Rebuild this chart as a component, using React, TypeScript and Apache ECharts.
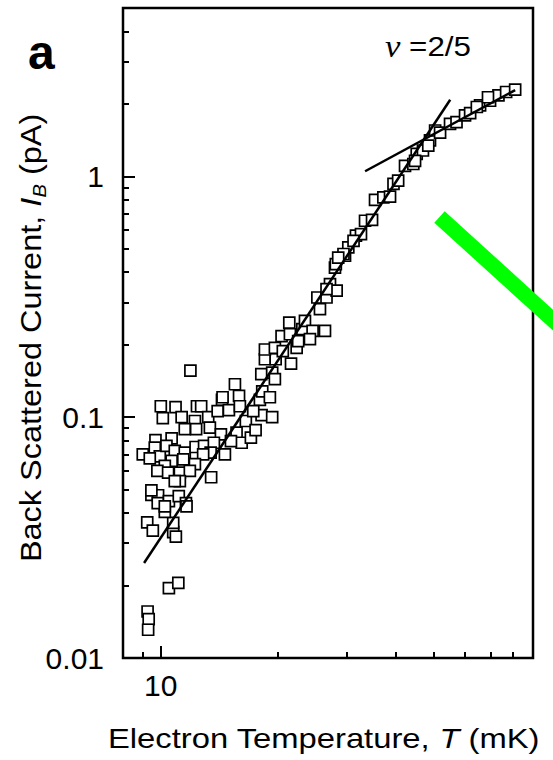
import React, { useEffect, useRef } from "react";
import * as echarts from "echarts";

// Electron temperature T (mK) and back scattered current I_B (pA), paired by index
const temperatureMK = [
  9.25, 9.31, 9.28, 10.49, 11.09, 9.23, 9.54, 10.76, 10.93, 10.76, 10.24, 9.46, 9.84, 10.49, 11.12, 11.6, 9.82,
  11.91, 15.49, 10.0, 10.91, 12.38, 12.69, 14.35, 15.87, 18.1, 19.3, 19.61, 10.12, 11.31, 12.23, 13.23, 13.99,
  14.95, 15.95, 16.52, 17.95, 18.13, 19.3, 17.26, 9.69, 10.66, 11.52, 12.32, 13.36, 14.26, 15.64, 16.12, 17.02,
  17.5, 15.13, 8.99, 9.65, 9.94, 9.37, 10.34, 10.86, 11.52, 12.28, 12.91, 13.68, 14.6, 13.42, 12.84, 10.66,
  11.42, 12.23, 10.24, 9.8, 10.44, 11.19, 11.87, 13.46, 11.19, 10.86, 9.46, 10.24, 11.64, 14.4, 18.2, 19.04,
  18.49, 19.7, 21.57, 18.49, 19.61, 20.55, 22.3, 20.4, 21.43, 21.35, 23.06, 23.42, 24.5, 26.36, 24.12, 22.5,
  25.2, 26.6, 25.59, 27.15, 27.96, 28.24, 26.6, 28.1, 29.67, 30.25, 31.65, 33.39, 34.8, 35.42, 37.2, 38.7,
  39.5, 40.6, 42.28, 44.4, 45.3, 47.0, 49.0, 50.5, 32.6, 31.2, 29.4, 28.5, 44.86, 48.5, 52.0, 55.15, 57.3,
  60.26, 62.1, 65.85, 69.85, 73.4, 76.8, 81.0, 64.6, 69.0,
];
const currentPA = [
  0.0156, 0.0145, 0.0131, 0.0195, 0.0205, 0.0366, 0.0338, 0.0333, 0.0319, 0.0364, 0.0404, 0.0476, 0.0474, 0.0448,
  0.047, 0.044, 0.044, 0.156, 0.137, 0.111, 0.11, 0.111, 0.111, 0.118, 0.1225, 0.151, 0.153, 0.144, 0.099, 0.1,
  0.0964, 0.1, 0.106, 0.107, 0.111, 0.0964, 0.118, 0.102, 0.1, 0.106, 0.0803, 0.0816, 0.0892, 0.0892, 0.0905,
  0.0848, 0.0862, 0.0783, 0.0822, 0.0883, 0.0796, 0.07, 0.0747, 0.0688, 0.0674, 0.076, 0.0724, 0.0712, 0.0752,
  0.076, 0.0783, 0.07, 0.0712, 0.07, 0.0658, 0.0668, 0.0638, 0.0628, 0.0598, 0.0588, 0.0588, 0.0598, 0.0563,
  0.0543, 0.0543, 0.0497, 0.0426, 0.0426, 0.121, 0.128, 0.121, 0.174, 0.174, 0.167, 0.191, 0.194, 0.188, 0.194,
  0.217, 0.221, 0.247, 0.232, 0.251, 0.228, 0.228, 0.211, 0.207, 0.314, 0.314, 0.281, 0.357, 0.418, 0.335, 0.34,
  0.432, 0.468, 0.507, 0.567, 0.654, 0.659, 0.798, 0.818, 0.823, 0.93, 0.96, 1.106, 1.125, 1.24, 1.28, 1.41,
  1.55, 0.576, 0.54, 0.476, 0.46, 1.16, 1.34, 1.52, 1.65, 1.68, 1.79, 1.83, 1.97, 2.06, 2.17, 2.24, 2.29, 1.94,
  2.13,
];

// Power-law guide lines (endpoints in data units)
const steepFitT = [9.06, 55.2];
const steepFitI = [0.0248, 2.08];
const shallowFitT = [33.4, 81.0];
const shallowFitI = [1.05, 2.28];

// Axis ticks
const xMajorTicks = [10];
const xMinorTicks = [9, 20, 30, 40, 50, 60, 70, 80];
const yMajorTicks = [0.01, 0.1, 1];
const yMinorTicks = [
  0.02, 0.03, 0.04, 0.05, 0.06, 0.07, 0.08, 0.09, 0.2, 0.3, 0.4, 0.5, 0.6, 0.7, 0.8, 0.9, 2, 3, 4,
];
const xRange = [8, 90];
const yRange = [0.01, 5];

const SANS = "'Liberation Sans', Arial, Helvetica, sans-serif";

export default function App() {
  const ref = useRef<HTMLDivElement>(null);

  useEffect(() => {
    if (!ref.current) return;
    const chart = echarts.init(ref.current, undefined, { renderer: "svg" });

    const points = temperatureMK.map((t, i) => [t, currentPA[i]]);
    const fmt = (v: number) => String(Number(Number(v).toPrecision(3)));

    const xBase = (ticks: number[], len: number, labels: boolean) => ({
      type: "log",
      logBase: 10,
      min: xRange[0],
      max: xRange[1],
      position: "bottom",
      axisLine: { show: false },
      splitLine: { show: false },
      minorTick: { show: false },
      axisTick: {
        show: true,
        inside: true,
        length: len,
        customValues: ticks,
        lineStyle: { color: "#000", width: 2 },
      },
      axisLabel: labels
        ? {
            show: true,
            customValues: ticks,
            formatter: fmt,
            fontSize: 30,
            fontFamily: SANS,
            color: "#000",
            margin: 12,
          }
        : { show: false },
    });
    const yBase = (ticks: number[], len: number, labels: boolean) => ({
      type: "log",
      logBase: 10,
      min: yRange[0],
      max: yRange[1],
      position: "left",
      axisLine: { show: false },
      splitLine: { show: false },
      minorTick: { show: false },
      axisTick: {
        show: true,
        inside: true,
        length: len,
        customValues: ticks,
        lineStyle: { color: "#000", width: 2 },
      },
      axisLabel: labels
        ? {
            show: true,
            customValues: ticks,
            formatter: fmt,
            fontSize: 30,
            fontFamily: SANS,
            color: "#000",
            margin: 19,
          }
        : { show: false },
    });

    chart.setOption({
      animation: false,
      backgroundColor: "#fff",
      grid: {
        left: 123,
        right: 20,
        top: 8,
        bottom: 102,
        show: true,
        borderColor: "#000",
        borderWidth: 2.5,
        backgroundColor: "transparent",
        containLabel: false,
        outerBoundsMode: "none",
      },
      xAxis: [xBase(xMajorTicks, 12, true), xBase(xMinorTicks, 6, false)],
      yAxis: [yBase(yMajorTicks, 12, true), yBase(yMinorTicks, 6, false)],
      series: [
        {
          type: "scatter",
          data: points,
          symbol: "rect",
          symbolSize: 11,
          itemStyle: { color: "#fff", borderColor: "#000", borderWidth: 1.7, opacity: 1 },
          z: 2,
          silent: true,
        },
        {
          type: "line",
          data: steepFitT.map((t, i) => [t, steepFitI[i]]),
          showSymbol: false,
          symbol: "none",
          lineStyle: { color: "#000", width: 2.5 },
          z: 3,
          silent: true,
        },
        {
          type: "line",
          data: shallowFitT.map((t, i) => [t, shallowFitI[i]]),
          showSymbol: false,
          symbol: "none",
          lineStyle: { color: "#000", width: 2.5 },
          z: 3,
          silent: true,
        },
      ],
      graphic: [
        {
          type: "text",
          x: 28,
          y: 76,
          style: {
            text: "a",
            fontFamily: SANS,
            fontWeight: "bold",
            fontSize: 48,
            fill: "#000",
            align: "left",
            verticalAlign: "bottom",
          },
          z: 50,
        },
        {
          type: "text",
          x: 385,
          y: 62,
          scaleX: 1.12,
          style: {
            text: "{nu|ν} =2/5",
            fontFamily: SANS,
            fontSize: 28,
            fill: "#000",
            align: "left",
            verticalAlign: "bottom",
            rich: {
              nu: { fontFamily: "'Liberation Serif', 'Times New Roman', serif", fontStyle: "italic", fontSize: 31 },
            },
          },
          z: 50,
        },
        {
          type: "text",
          x: 108,
          y: 752,
          scaleX: 1.17,
          style: {
            text: "Electron Temperature, {i|T} (mK)",
            fontFamily: SANS,
            fontSize: 28,
            fill: "#000",
            align: "left",
            verticalAlign: "bottom",
            rich: { i: { fontStyle: "italic", fontFamily: SANS, fontSize: 28 } },
          },
          z: 50,
        },
        {
          type: "text",
          x: 31,
          y: 338,
          rotation: Math.PI / 2,
          scaleX: 1.12,
          style: {
            text: "Back Scattered Current, {i|I}{sub|B} (pA)",
            fontFamily: SANS,
            fontSize: 29,
            lineHeight: 36,
            fill: "#000",
            align: "center",
            verticalAlign: "middle",
            rich: {
              i: { fontStyle: "italic", fontFamily: SANS, fontSize: 29, lineHeight: 36 },
              sub: { fontStyle: "italic", fontFamily: SANS, fontSize: 18, lineHeight: 18, verticalAlign: "bottom" },
            },
          },
          z: 50,
        },
        {
          type: "line",
          shape: { x1: 439.5, y1: 217, x2: 620, y2: 381 },
          style: { stroke: "#00ff00", lineWidth: 15.5, lineCap: "butt" },
          z: 100,
        },
      ],
    });

    return () => chart.dispose();
  }, []);

  return (
    <div
      ref={ref}
      style={{ position: "absolute", left: 0, top: 0, width: 553, height: 760, background: "#fff" }}
    />
  );
}
